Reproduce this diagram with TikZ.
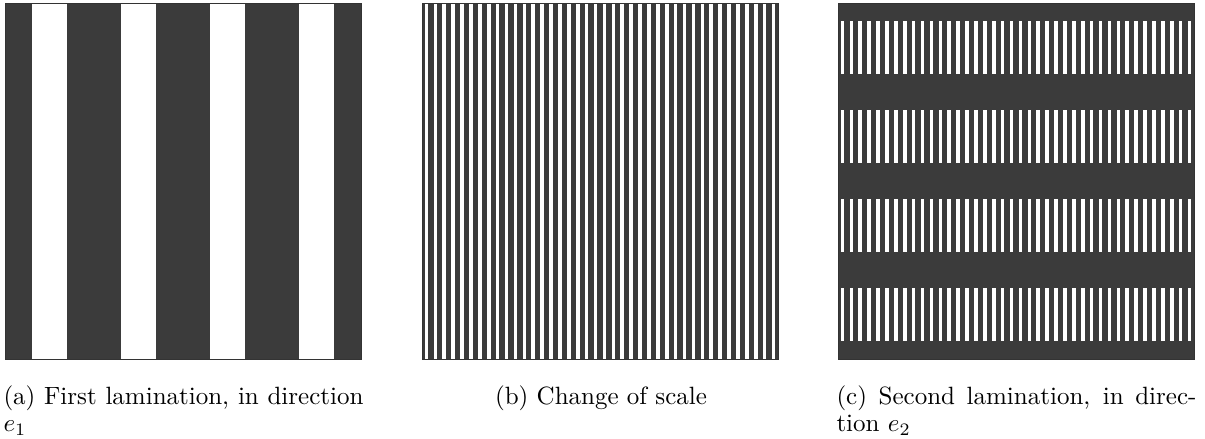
\documentclass[tikz,border=0pt]{standalone}
\definecolor{phase}{RGB}{59,59,59}
\tikzset{
  solid phase/.style={fill=phase},
  void phase/.style={fill=white},
  panel frame/.style={draw=black!80, line width=0.3pt},
  subcap/.style={inner sep=0pt, outer sep=0pt}
}
\begin{document}
\begin{tikzpicture}[x=0.4pt,y=-0.4pt]
\useasboundingbox (0,0) rectangle (1205,439);
% ---------- (a) first lamination ----------
\fill[solid phase] (5,3) rectangle (361,359);
\foreach \k in {0,...,3}
  \fill[void phase] ({5+26.7+89*\k},3) rectangle ++(35.6,356);
\draw[panel frame] (5,3) rectangle (361,359);
% ---------- (b) change of scale ----------
\fill[solid phase] (422,3) rectangle (778,359);
\foreach \k in {0,...,39}
  \fill[void phase] ({422+2.67+8.9*\k},3) rectangle ++(3.56,356);
\draw[panel frame] (422,3) rectangle (778,359);
% ---------- (c) second lamination ----------
\fill[solid phase] (838,3) rectangle (1194,359);
\foreach \j in {0,...,3}
  \foreach \k in {0,...,39}
    \fill[void phase] ({838+2.67+8.9*\k},{3+17.8+89*\j}) rectangle ++(3.56,53.4);
\draw[panel frame] (838,3) rectangle (1194,359);
% ---------- captions ----------
\node[subcap, anchor=base west] (capa) at (3.5,404)
  {\parbox[t]{144pt}{\baselineskip=11pt (a) First lamination, in direction\linebreak $e_1$}};
\node[subcap, anchor=base] (capb) at (601,404) {(b) Change of scale};
\node[subcap, anchor=base west] (capc) at (836.5,404)
  {\parbox[t]{144pt}{\baselineskip=11pt (c) Second lamination, in direc-\linebreak tion $e_2$}};
\end{tikzpicture}
\end{document}
